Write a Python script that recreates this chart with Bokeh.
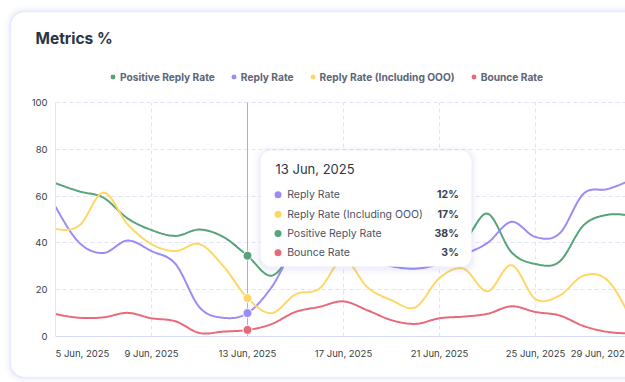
import numpy as np
import pandas as pd
from bokeh.plotting import figure
from bokeh.models import (Range1d, FixedTicker, BoxAnnotation, Label, Legend, LegendItem, Grid)
from bokeh.embed import file_html
from bokeh.resources import INLINE

# ---------------- data ----------------
DATES = [d.strftime("%Y-%m-%d") for d in pd.date_range("2025-06-05", "2025-06-29", freq="D")]

POSITIVE_REPLY = [65.5, 62, 59.3, 50.5, 45.5, 43, 45.7, 42.5, 34.5, 26, 37, 44, 47, 45, 44, 46,
                  44, 41, 52.5, 36, 31, 32, 47.5, 52, 51.5]
REPLY = [55.5, 40, 35.7, 41, 36.5, 31, 12.5, 8, 10, 21, 38, 40, 37, 33, 30, 29, 31, 35, 40, 49,
         42.5, 44, 61, 63, 67]
REPLY_OOO = [46, 47.5, 61.5, 48, 39.5, 36.5, 39.5, 30, 16.4, 10, 18, 20.5, 33, 21, 15.5, 12.5, 25,
             29, 19.3, 30.5, 16, 17.5, 26, 24, 7]
BOUNCE = [9.6, 8, 8.2, 10.1, 7.8, 6.5, 1.5, 2.1, 2.8, 5.3, 10.5, 12.7, 15, 11.2, 7, 5.4, 7.8, 8.5,
          9.7, 12.9, 10.5, 9, 4.5, 2, 1.3]

SERIES_NAMES = ["Positive Reply Rate", "Reply Rate", "Reply Rate (Including OOO)", "Bounce Rate"]
SERIES_VALUES = [POSITIVE_REPLY, REPLY, REPLY_OOO, BOUNCE]
SERIES_COLORS = ["#56a477", "#9b8cf5", "#fed766", "#e8697a"]

TICK_DATES = ["2025-06-05", "2025-06-09", "2025-06-13", "2025-06-17", "2025-06-21",
              "2025-06-25", "2025-06-29"]
Y_TICKS = [0, 20, 40, 60, 80, 100]

HOVER_DATE = "2025-06-13"
TOOLTIP_ORDER = ["Reply Rate", "Reply Rate (Including OOO)", "Positive Reply Rate", "Bounce Rate"]
TOOLTIP_VALUES = ["12%", "17%", "38%", "3%"]

TITLE = "Metrics %"

# ---------------- helpers ----------------
HOUR = 3600 * 1000


def ms(d):
    return pd.Timestamp(d).value // 10**6


def smooth(xv, yv, steps=20):
    """Cubic Hermite (Catmull-Rom) curve through the points, natural-style ends."""
    xv = np.asarray(xv, float)
    yv = np.asarray(yv, float)
    n = len(xv)
    m = np.empty(n)
    m[1:-1] = (yv[2:] - yv[:-2]) / (xv[2:] - xv[:-2])
    m[0] = (3 * (yv[1] - yv[0]) / (xv[1] - xv[0]) - m[1]) / 2
    m[-1] = (3 * (yv[-1] - yv[-2]) / (xv[-1] - xv[-2]) - m[-2]) / 2
    xs, ys = [], []
    t = np.linspace(0, 1, steps, endpoint=False)
    h00 = 2 * t**3 - 3 * t**2 + 1
    h10 = t**3 - 2 * t**2 + t
    h01 = -2 * t**3 + 3 * t**2
    h11 = t**3 - t**2
    for i in range(n - 1):
        h = xv[i + 1] - xv[i]
        xs.append(xv[i] + t * h)
        ys.append(h00 * yv[i] + h10 * h * m[i] + h01 * yv[i + 1] + h11 * h * m[i + 1])
    xs.append([xv[-1]])
    ys.append([yv[-1]])
    return np.concatenate(xs), np.concatenate(ys)


def label_for(d):
    t = pd.Timestamp(d)
    return f"{t.day} {t:%b, %Y}"


def sbox(**kw):
    return BoxAnnotation(left_units="screen", right_units="screen", bottom_units="screen",
                         top_units="screen", **kw)


FONT = "Inter"
x_ms = [ms(d) for d in DATES]
X0 = ms(DATES[0])

# ---------------- figure (frame = whole canvas, 1 px = 1 hour) ----------------
W, H = 625, 382
x_start, x_end = X0 - 55 * HOUR, X0 + 570 * HOUR
PX_PER_UNIT = 2.34
y_start, y_end = -(H - 336) / PX_PER_UNIT, 336 / PX_PER_UNIT

p = figure(width=W, height=H, x_axis_type="datetime", output_backend="svg",
           toolbar_location=None, title=None,
           x_range=Range1d(x_start, x_end), y_range=Range1d(y_start, y_end),
           min_border=0, min_border_left=0, min_border_right=0, min_border_top=0,
           min_border_bottom=0)
p.border_fill_color = "white"
p.background_fill_color = "white"
p.outline_line_color = None

# card with soft glow (screen units: from frame bottom-left)
for k, a in ((6, 0.025), (4, 0.035), (2, 0.05)):
    p.add_layout(sbox(left=10 - k, right=700, bottom=5 - k, top=371 + k, fill_color="#7c85f0",
                      fill_alpha=a, line_color=None, border_radius=14 + k, level="image"))
p.add_layout(sbox(left=10, right=700, bottom=5, top=371, fill_color="white", fill_alpha=1,
                  line_color="#c3cbfb", line_width=1.5, border_radius=14, level="image"))

# axes placed inside the frame
mid_ticks = [ms(d) for d in TICK_DATES[1:-1]]
xa, ya = p.xaxis[0], p.yaxis[0]
xa.fixed_location = 0
ya.fixed_location = X0
xa.ticker = FixedTicker(ticks=mid_ticks)
xa.major_label_overrides = {int(ms(d)): label_for(d) for d in TICK_DATES[1:-1]}
ya.ticker = FixedTicker(ticks=Y_TICKS)
xa.bounds = (X0, x_end + 100 * HOUR)
ya.bounds = (Y_TICKS[0], Y_TICKS[-1])
for ax in (xa, ya):
    ax.major_tick_line_color = None
    ax.minor_tick_line_color = None
    ax.major_tick_out = 0
    ax.major_tick_in = 0
    ax.major_label_text_font = FONT
    ax.major_label_text_font_size = "9.5px"
    ax.major_label_text_color = "#373d3f"
xa.axis_line_color = "#d6dbfb"
ya.axis_line_color = "#e1e5fc"
xa.major_label_standoff = 11
ya.major_label_standoff = 8

xg, yg = p.xgrid[0], p.ygrid[0]
xg.ticker = FixedTicker(ticks=mid_ticks)
yg.ticker = FixedTicker(ticks=Y_TICKS[1:])
HAS_CROSS = "cross_bounds" in Grid.properties()
for g in (xg, yg):
    g.grid_line_color = "#e1e3fb"
    g.grid_line_dash = "4 3"
    g.grid_line_width = 1
if HAS_CROSS:
    xg.cross_bounds = (Y_TICKS[0], Y_TICKS[-1])
    yg.cross_bounds = (X0, x_end + 100 * HOUR)
else:
    xg.visible = False
    yg.visible = False
    p.segment(x0=mid_ticks, y0=[Y_TICKS[0]] * len(mid_ticks), x1=mid_ticks,
              y1=[Y_TICKS[-1]] * len(mid_ticks), line_color="#e1e3fb", line_dash="4 3")
    p.segment(x0=[X0] * 5, y0=Y_TICKS[1:], x1=[x_end] * 5, y1=Y_TICKS[1:],
              line_color="#e1e3fb", line_dash="4 3")

# first / last x labels kept inside the chart edges
p.add_layout(Label(x=55, y=29.5, x_units="screen", y_units="screen", text=label_for(TICK_DATES[0]),
                   text_align="left", text_baseline="middle", text_font=FONT,
                   text_font_size="9.5px", text_color="#373d3f"))
p.add_layout(Label(x=630, y=29.5, x_units="screen", y_units="screen", text=label_for(TICK_DATES[-1]),
                   text_align="right", text_baseline="middle", text_font=FONT,
                   text_font_size="9.5px", text_color="#373d3f"))

# crosshair
hx = ms(HOVER_DATE)
p.segment(x0=[hx], y0=[Y_TICKS[0]], x1=[hx], y1=[Y_TICKS[-1]], line_color="#aaa7f4", line_width=1)

# lines
hi = DATES.index(HOVER_DATE)
markers = {}
for name, vals, col in zip(SERIES_NAMES, SERIES_VALUES, SERIES_COLORS):
    sx, sy = smooth(x_ms, vals)
    p.line(sx, sy, line_color=col, line_width=2)
for name, vals, col in zip(SERIES_NAMES, SERIES_VALUES, SERIES_COLORS):
    markers[name] = p.scatter([x_ms[hi]], [vals[hi]], size=9, fill_color=col,
                              line_color="white", line_width=1)

# legend
legend = Legend(items=[LegendItem(label=n, renderers=[markers[n]]) for n in SERIES_NAMES],
                orientation="horizontal", location=(105, 298), padding=0, margin=0,
                glyph_width=15, glyph_height=15, label_height=15, label_standoff=0, spacing=11,
                label_text_font=FONT, label_text_font_size="10.2px", label_text_font_style="bold",
                label_text_color="#5d6678", border_line_color=None, background_fill_alpha=0)
p.add_layout(legend, "center")

# title
p.add_layout(Label(x=35, y=344, x_units="screen", y_units="screen", text=TITLE,
                   text_font=FONT, text_font_size="15.5px", text_font_style="bold",
                   text_color="#2b3444", text_baseline="alphabetic"))

# tooltip box
L, R, B, T = 260, 471, 116, 232
for k, a in ((7, 0.025), (4, 0.035), (2, 0.05)):
    p.add_layout(sbox(left=L - k, right=R + k, bottom=B - k - 2, top=T + k - 1,
                      fill_color="#6d73e0", fill_alpha=a, line_color=None, border_radius=10 + k))
p.add_layout(sbox(left=L, right=R, bottom=B, top=T, fill_color="white", fill_alpha=1,
                  line_color="#eef0fb", line_width=1, border_radius=10))
p.add_layout(Label(x=275, y=214, x_units="screen", y_units="screen", text=label_for(HOVER_DATE),
                   text_font=FONT, text_font_size="13px", text_color="#2f3645",
                   text_baseline="middle"))
row_y = [187.7, 168.3, 149.0, 129.7]
for ry, name, val in zip(row_y, TOOLTIP_ORDER, TOOLTIP_VALUES):
    col = SERIES_COLORS[SERIES_NAMES.index(name)]
    p.add_layout(sbox(left=274, right=281, bottom=ry - 3.5, top=ry + 3.5, fill_color=col,
                      fill_alpha=1, line_color=None, border_radius=4))
    p.add_layout(Label(x=286.7, y=ry, x_units="screen", y_units="screen", text=name,
                       text_font=FONT, text_font_size="10.5px", text_color="#4a5264",
                       text_baseline="middle"))
    p.add_layout(Label(x=458.3, y=ry, x_units="screen", y_units="screen", text=val,
                       text_font=FONT, text_font_size="10.5px", text_font_style="bold",
                       text_color="#3a4150", text_align="right", text_baseline="middle"))

open("out.html", "w").write(file_html(p, INLINE))
